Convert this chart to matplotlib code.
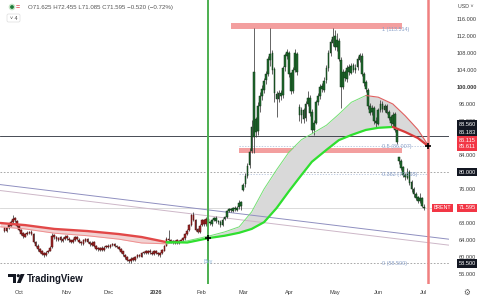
import numpy as np
import pandas as pd
import matplotlib
matplotlib.use("Agg")
import matplotlib.pyplot as plt
import matplotlib.transforms as mtransforms
from matplotlib.patches import Rectangle, Circle, Polygon, FancyBboxPatch

# ---------------- data ----------------
candle_first = "2025-09-22"
candle_last = "2026-07-01"

opens = [66.8, 66.1, 66.9, 67.4, 68.2, 69.1, 68.5, 67.3, 66.4, 65.6,
         64.8, 65.3, 65.6, 66.0, 65.4, 63.5, 62.7, 61.9, 61.3, 60.9,
         60.4, 61.1, 61.5, 62.3, 65.1, 64.7, 64.1, 64.6, 63.8, 64.2,
         64.9, 64.3, 63.9, 63.5, 64.0, 64.7, 64.1, 63.6, 63.1, 63.8,
         64.3, 63.5, 62.9, 63.5, 62.5, 62.1, 61.7, 62.2, 61.6, 62.3,
         62.7, 62.3, 62.9, 63.1, 62.6, 62.4, 61.8, 61.3, 60.5, 60.0,
         59.3, 59.0, 59.7, 59.2, 60.1, 60.5, 60.1, 61.0, 61.3, 60.9,
         61.5, 61.0, 60.7, 61.4, 60.9, 60.5, 61.0, 61.5, 62.7, 64.3,
         63.9, 63.7, 63.4, 63.9, 63.3, 63.8, 64.1, 64.4, 65.5, 66.3,
         67.6, 69.9, 68.7, 66.5, 65.9, 67.5, 68.7, 67.7, 69.0, 68.2,
         67.8, 68.8, 69.2, 68.4, 68.3, 67.5, 68.9, 69.5, 70.9, 71.3,
         70.9, 71.6, 71.1, 71.7, 72.9, 75.8, 77.2, 79.1, 81.6, 85.0,
         88.2, 92.5, 89.6, 95.6, 97.9, 99.4, 101.6, 103.1, 106.4, 108.0,
         104.2, 98.4, 97.1, 98.7, 98.0, 104.6, 107.4, 108.1, 103.2, 99.1,
         104.1, 107.8, 95.3, 93.4, 94.6, 92.6, 96.1, 97.4, 94.1, 89.9,
         91.6, 96.4, 97.9, 100.2, 99.4, 101.6, 104.4, 108.1, 110.4, 111.9,
         109.4, 110.8, 106.4, 100.1, 103.6, 101.9, 104.6, 103.4, 105.1, 103.9,
         104.6, 106.4, 107.4, 103.1, 101.1, 99.4, 95.6, 94.1, 95.1, 92.1,
         91.4, 94.6, 96.1, 94.7, 95.6, 94.1, 92.9, 91.4, 93.6, 89.9,
         83.5, 82.6, 81.1, 79.4, 78.7, 80.1, 77.6, 76.1, 74.9, 74.1,
         73.1, 73.9, 71.625]
highs = [67.1, 67.0, 67.8, 68.6, 69.9, 69.4, 68.7, 67.5, 66.6, 65.8,
         65.7, 66.0, 66.2, 66.3, 65.6, 63.8, 63.0, 62.1, 61.6, 61.1,
         61.3, 61.7, 62.5, 65.6, 65.4, 65.0, 64.8, 64.9, 64.6, 65.1,
         65.2, 64.6, 64.1, 64.4, 64.9, 64.9, 64.4, 63.8, 64.2, 64.5,
         64.5, 63.8, 63.7, 63.7, 62.8, 62.4, 62.4, 62.5, 62.5, 62.9,
         63.0, 63.1, 63.4, 63.3, 62.9, 62.6, 62.0, 61.5, 60.8, 60.2,
         59.6, 59.9, 60.0, 60.3, 60.7, 60.8, 61.2, 61.5, 61.6, 61.7,
         61.8, 61.3, 61.6, 61.7, 61.2, 61.2, 61.9, 62.9, 64.7, 66.4,
         64.3, 64.0, 64.1, 64.2, 64.0, 64.3, 64.8, 65.7, 66.5, 67.8,
         70.1, 70.6, 69.0, 66.9, 67.7, 68.9, 69.0, 69.3, 69.4, 68.5,
         69.0, 69.4, 69.6, 68.8, 68.6, 69.1, 69.7, 71.1, 71.6, 71.6,
         71.8, 71.9, 71.9, 73.4, 73.1, 77.5, 79.8, 82.0, 85.6, 92.2,
         113.9, 93.0, 96.5, 98.8, 100.5, 102.2, 103.8, 107.2, 113.9, 108.6,
         104.6, 99.0, 99.3, 99.2, 105.0, 108.0, 108.9, 108.5, 103.6, 104.8,
         108.9, 108.2, 96.0, 95.2, 95.0, 96.8, 99.0, 98.0, 94.8, 92.2,
         97.0, 98.5, 100.8, 101.0, 102.3, 105.2, 108.8, 111.4, 113.9, 113.4,
         112.7, 111.5, 107.0, 104.2, 104.0, 105.2, 105.4, 105.6, 105.6, 105.3,
         107.2, 108.1, 108.0, 103.6, 101.6, 99.8, 96.2, 95.8, 95.6, 93.0,
         95.0, 97.0, 96.6, 96.0, 96.0, 94.6, 93.4, 94.2, 94.0, 90.3,
         83.6, 83.0, 81.4, 79.8, 81.0, 80.4, 78.0, 76.5, 75.3, 74.4,
         75.0, 74.2, 72.455]
lows = [65.8, 65.9, 66.6, 67.2, 68.0, 68.3, 67.1, 66.0, 65.2, 64.5,
        64.6, 65.1, 65.4, 65.2, 63.3, 62.3, 61.5, 60.9, 60.4, 60.0,
        60.2, 60.9, 61.3, 62.0, 64.2, 63.8, 63.8, 63.6, 63.5, 64.0,
        64.1, 63.6, 63.2, 63.3, 63.8, 63.9, 63.2, 62.9, 62.8, 63.5,
        63.3, 62.7, 62.6, 62.3, 61.7, 61.5, 61.4, 61.4, 61.3, 62.0,
        62.1, 62.1, 62.6, 62.4, 62.0, 61.6, 60.9, 60.3, 59.5, 59.0,
        58.7, 58.6, 59.0, 59.0, 59.8, 59.9, 59.9, 60.7, 60.7, 60.6,
        60.8, 60.5, 60.4, 60.7, 60.2, 60.1, 60.7, 61.3, 62.5, 63.7,
        63.3, 63.1, 63.1, 63.1, 63.0, 63.5, 63.8, 64.1, 65.2, 66.0,
        67.3, 68.4, 66.0, 65.6, 65.6, 67.2, 67.4, 67.4, 68.0, 67.5,
        67.4, 68.5, 68.1, 67.8, 67.0, 67.2, 68.6, 69.2, 70.6, 70.7,
        70.6, 70.9, 70.8, 71.3, 71.0, 75.6, 76.5, 78.5, 81.0, 84.5,
        84.5, 88.2, 88.8, 94.2, 97.0, 98.5, 100.8, 102.5, 105.0, 103.0,
        96.4, 92.9, 96.5, 97.0, 97.5, 103.8, 106.5, 102.3, 98.3, 98.6,
        103.5, 102.8, 92.0, 91.5, 91.6, 92.0, 95.5, 93.2, 89.2, 88.7,
        91.2, 95.8, 97.2, 98.8, 98.8, 101.0, 103.8, 107.2, 109.6, 108.8,
        108.5, 106.0, 95.0, 99.5, 101.5, 101.2, 102.8, 103.0, 103.5, 103.4,
        104.0, 105.8, 102.5, 100.3, 98.8, 94.8, 93.4, 93.5, 91.2, 90.6,
        91.0, 94.0, 94.2, 94.2, 93.6, 92.3, 90.8, 90.5, 89.4, 86.5,
        81.8, 80.4, 78.8, 78.1, 78.4, 76.9, 75.2, 74.2, 73.4, 72.7,
        72.6, 71.8, 71.085]
closes = [66.2, 66.8, 67.5, 68.3, 69.0, 68.6, 67.4, 66.3, 65.5, 64.9,
          65.4, 65.7, 65.9, 65.5, 63.6, 62.6, 61.8, 61.2, 60.8, 60.5,
          61.0, 61.4, 62.2, 65.0, 64.6, 64.2, 64.5, 63.9, 64.3, 64.8,
          64.4, 63.9, 63.6, 64.1, 64.6, 64.2, 63.5, 63.2, 63.9, 64.2,
          63.6, 63.0, 63.4, 62.6, 62.0, 61.8, 62.1, 61.7, 62.2, 62.6,
          62.4, 62.8, 63.0, 62.7, 62.3, 61.9, 61.2, 60.6, 59.9, 59.4,
          59.1, 59.6, 59.3, 60.0, 60.4, 60.2, 60.9, 61.2, 61.0, 61.4,
          61.1, 60.8, 61.3, 61.0, 60.6, 60.9, 61.6, 62.6, 64.2, 64.0,
          63.6, 63.5, 63.8, 63.4, 63.7, 64.0, 64.5, 65.4, 66.2, 67.5,
          69.8, 68.8, 66.4, 66.0, 67.4, 68.6, 67.8, 68.9, 68.3, 67.9,
          68.7, 69.1, 68.5, 68.2, 67.6, 68.8, 69.4, 70.8, 71.2, 71.0,
          71.5, 71.2, 71.6, 72.8, 71.9, 77.0, 79.0, 81.5, 84.8, 90.5,
          103.5, 89.5, 95.5, 97.8, 99.5, 101.5, 103.0, 106.5, 107.8, 104.0,
          98.5, 97.2, 98.6, 97.8, 104.5, 107.5, 108.3, 103.0, 99.0, 104.0,
          108.0, 103.5, 93.5, 94.5, 92.5, 96.0, 97.5, 94.0, 90.0, 91.5,
          96.5, 97.8, 100.0, 99.5, 101.5, 104.5, 108.0, 110.5, 111.8, 109.5,
          111.0, 106.5, 100.0, 103.5, 102.0, 104.5, 103.5, 105.0, 104.0, 104.5,
          106.5, 107.5, 103.0, 101.0, 99.5, 95.5, 94.0, 95.0, 92.0, 91.5,
          94.5, 96.0, 94.8, 95.5, 94.0, 92.8, 91.5, 93.5, 90.0, 87.0,
          82.5, 81.0, 79.3, 78.8, 80.0, 77.5, 76.0, 74.8, 74.0, 73.2,
          73.8, 72.1, 71.595]

ribbon_dates = ["2025-09-18", "2025-10-06", "2025-10-24", "2025-11-17", "2025-12-08",
                "2025-12-23", "2026-01-08", "2026-01-22", "2026-02-06", "2026-02-17",
                "2026-02-26", "2026-03-06", "2026-03-16", "2026-03-24", "2026-04-01",
                "2026-04-09", "2026-04-16", "2026-04-27", "2026-05-05", "2026-05-13",
                "2026-05-22", "2026-06-01", "2026-06-10", "2026-06-18", "2026-06-26",
                "2026-07-03"]
ma_slow = [68.0, 67.5, 66.6, 66.1, 65.4, 64.7, 63.5, 63.4, 64.5, 65.0,
           65.7, 66.6, 68.2, 71.5, 75.5, 79.3, 82.4, 85.2, 87.5, 88.7,
           89.9, 90.4, 90.6, 89.4, 88.0, 86.1]
ma_fast = [67.1, 66.6, 65.6, 65.0, 64.2, 63.3, 63.1, 63.8, 65.0, 65.9,
           67.1, 70.6, 76.0, 80.5, 84.7, 87.6, 89.0, 91.0, 93.6, 96.4,
           98.0, 97.6, 96.0, 93.2, 90.0, 86.3]
bull_turn = "2026-01-08"
fast_bear_turn = "2026-05-22"
slow_bear_turn = "2026-06-10"

buy_date = "2026-02-05"
buy_price = 64.5
signal_date = "2026-07-03"
signal_price = 86.2

hline_price = 88.56
last_price = 71.595
dashed_levels = [80.0, 58.5]
fib_names = ["1", "0.5", "0.382", "0"]
fib_prices = [113.514, 86.007, 79.515, 58.5]
zone_prices = [(113.65, 115.05), (84.55, 85.6)]
zone_dates = [("2026-02-20", "2026-06-16"), ("2026-02-26", "2026-06-16")]

trend_a = [("2025-10-01", 76.5), ("2026-07-01", 64.9)]
trend_b = [("2025-10-01", 75.1), ("2026-07-01", 63.5)]

price_ticks = [56, 60, 64, 68, 76, 84, 92, 96, 100, 104, 108, 112, 116]
month_starts = ["2025-10-01", "2025-11-03", "2025-12-01", "2026-01-01", "2026-02-02",
                "2026-03-02", "2026-04-01", "2026-05-01", "2026-06-01", "2026-07-01"]
month_labels = ["Oct", "Nov", "Dec", "2026", "Feb", "Mar", "Apr", "May", "Jun", "Jul"]

box_values = [88.56, 86.183, 86.115, 85.611, 80.0, 71.595, 58.5]
box_colors = ["#131722", "#131722", "#f23645", "#f23645", "#131722", "#f23645", "#131722"]
box_shift_px = [11.6, 13.7, 6.0, 1.2, 0.0, 0.0, 0.0]

ohlc_text = "O71.625 H72.455 L71.085 C71.595 \u22120.520 (\u22120.72%)"

# ---------------- layout ----------------
W, H = 483, 300
plt.rcParams['font.family'] = ['Liberation Sans', 'DejaVu Sans']
fig = plt.figure(figsize=(W / 100, H / 100), dpi=100)
fig.patch.set_facecolor('white')
PLOT_R, PLOT_B = 449, 284
ax = fig.add_axes([0, (H - PLOT_B) / H, PLOT_R / W, PLOT_B / H])
ax.set_facecolor('white')
for s in ax.spines.values():
    s.set_visible(False)

axis_dates = pd.bdate_range("2025-09-15", "2026-07-20")
pos = {d: i for i, d in enumerate(axis_dates)}
P = lambda d: pos[pd.Timestamp(d)]

# x scale: Oct 1 at px 19, Jul 1 at px 424
k = (P("2026-07-01") - P("2025-10-01")) / (424 - 19)
ax.set_xlim(P("2025-10-01") - 19 * k, P("2025-10-01") + (PLOT_R - 19) * k)
# y scale: 116 at px 19, 4.25 px per unit
ax.set_ylim(116 - (PLOT_B - 19) / 4.25, 116 + 19 / 4.25)

cdates = pd.bdate_range(candle_first, candle_last)
cx = np.array([pos[d] for d in cdates], dtype=float)
o = np.array(opens); h = np.array(highs); l = np.array(lows); c = np.array(closes)

# zones
for (p0, p1), (d0, d1) in zip(zone_prices, zone_dates):
    ax.add_patch(Rectangle((P(d0), p0), P(d1) + 0.5 - P(d0), p1 - p0,
                           facecolor='#f28e8e', edgecolor='none', alpha=0.85, zorder=1))

# horizontal lines
ax.axhline(hline_price, color='#2a2e39', lw=0.6, zorder=2)
ax.axhline(last_price, color='#d4d4d4', lw=0.6, zorder=1)
for lv in dashed_levels:
    ax.axhline(lv, color='#9a9a9a', lw=0.6, ls=(0, (2, 2)), zorder=1)

# fib labels & light lines
for name, fp in zip(fib_names, fib_prices):
    if name in ("0.5", "0.382"):
        ax.plot([P("2026-02-26"), P("2026-07-03")], [fp, fp], color='#a9bad6',
                lw=0.5, ls=(0, (2, 2)), zorder=1)
    ax.text(P("2026-06-03"), fp, f"{name} ({fp:.3f})", fontsize=3.9, color='#8aa0c8',
            va='center', ha='left', zorder=6)

# trend lines
ax.axline((P(trend_a[0][0]), trend_a[0][1]), (P(trend_a[1][0]), trend_a[1][1]),
          color='#8f8fc0', lw=0.7, zorder=2)
ax.axline((P(trend_b[0][0]), trend_b[0][1]), (P(trend_b[1][0]), trend_b[1][1]),
          color='#cdb7c8', lw=0.7, zorder=2)

# ribbon
rx = np.array([P(d) for d in ribbon_dates], dtype=float)
fast = np.array(ma_fast); slow = np.array(ma_slow)
bt = P(bull_turn)
early = rx <= bt
late = rx >= bt
ax.fill_between(rx[early], fast[early], slow[early], color='#f1d2d2', lw=0, zorder=1.5)
ax.fill_between(rx[late], fast[late], slow[late], color='#d9d9d9', lw=0, zorder=1.5)

def seg(vals, mask, color, lw):
    ax.plot(rx[mask], vals[mask], color=color, lw=lw, zorder=4, solid_capstyle='round')

ft, st = P(fast_bear_turn), P(slow_bear_turn)
seg(fast, rx <= bt, '#ef8f8f', 0.7)
seg(slow, rx <= bt, '#e24848', 1.7)
seg(fast, (rx >= bt) & (rx <= ft), '#74de74', 0.7)
seg(fast, rx >= ft, '#e06060', 0.8)
seg(slow, (rx >= bt) & (rx <= st), '#2fe02f', 1.6)
seg(slow, rx >= st, '#d83a3a', 1.6)

# candles
buy_x = P(buy_date)
pre = cx < buy_x
face = np.where(pre, '#9a2626', '#1f6a2d')
edge = np.where(pre, '#5a1010', '#0f3516')
ax.vlines(cx, l, h, color='#3a3a3a', lw=0.55, zorder=3)
body_lo = np.minimum(o, c)
body_h = np.maximum(np.abs(c - o), 0.15)
ax.bar(cx, body_h, bottom=body_lo, width=0.85, color=face, edgecolor=edge, lw=0.35, zorder=3.5)

# vertical signal lines
ax.axvline(buy_x, color='#4caf50', lw=1.4, zorder=5)
ax.axvline(P(signal_date), color='#f08080', lw=1.8, zorder=5)
ax.plot([buy_x, P(signal_date)], [buy_price, signal_price], ls='none', marker='+',
        color='black', ms=4, mew=1.2, zorder=6)
ax.text(buy_x, 58.9, "Buy", fontsize=3.9, color='#8ab4d8', ha='center', va='center', zorder=6)

# axes ticks
ax.xaxis.set_ticks([P(d) for d in month_starts])
ax.xaxis.set_ticklabels(month_labels)
ax.tick_params(axis='x', length=0, pad=4.2, labelsize=4.1, labelcolor='#3a3a3a')
for lab in ax.get_xticklabels():
    if lab.get_text() == "2026":
        lab.set_fontweight('bold')

ax.yaxis.tick_right()
ax.yaxis.set_ticks(price_ticks)
ax.yaxis.set_ticklabels([f"{v:.3f}" for v in price_ticks])
ax.tick_params(axis='y', length=0, pad=13.0, labelsize=4.1, labelcolor='#3a3a3a')
plt.setp(ax.get_yticklabels(), ha='center')
for lab in ax.get_yticklabels():
    if lab.get_text() == "100.000":
        lab.set_fontweight('bold')

# boxed price labels on the axis
trans = mtransforms.blended_transform_factory(ax.transAxes, ax.transData)
for v, fc, sh in zip(box_values, box_colors, box_shift_px):
    ax.annotate(f"{v:.3f}", xy=(1, v), xycoords=trans, xytext=(18 * 0.72, sh * 0.72),
                textcoords='offset points', ha='center', va='center', fontsize=4.1,
                color='white', annotation_clip=False, zorder=8,
                bbox=dict(boxstyle='square,pad=0.3', fc=fc, ec='none'))
ax.annotate("BRENT", xy=(1, last_price), xycoords=trans, xytext=(-6.5 * 0.72, 0),
            textcoords='offset points', ha='center', va='center', fontsize=3.8,
            color='white', annotation_clip=False, zorder=8,
            bbox=dict(boxstyle='square,pad=0.3', fc='#f23645', ec='none'))

# ---------------- figure decorations ----------------
pxT = mtransforms.Affine2D().scale(1 / W, -1 / H).translate(0, 1) + fig.transFigure

fig.add_artist(Circle((12, 7), 3.3, transform=pxT, facecolor='#c8e6c9', edgecolor='none'))
fig.add_artist(Circle((12, 7), 1.9, transform=pxT, facecolor='#1f7a3a', edgecolor='none'))
fig.text(17.5, 7, "=", transform=pxT, fontsize=5, color='#e0505a', va='center', ha='center',
         fontweight='bold')
fig.text(28, 7.2, ohlc_text, transform=pxT, fontsize=4.4, color='#555555', va='center', ha='left')
fig.add_artist(FancyBboxPatch((7, 14), 13, 8, boxstyle='round,pad=0,rounding_size=1.5',
                              transform=pxT, facecolor='white', edgecolor='#dddddd', lw=0.5))
fig.text(13.5, 18.2, "\u02c5 4", transform=pxT, fontsize=3.8, color='#444444',
         va='center', ha='center')
fig.text(466, 7, "USD \u02c5", transform=pxT, fontsize=3.8, color='#444444', va='center',
         ha='center')
fig.text(467, 292.5, "\u2699", transform=pxT, fontsize=5.5, color='#555555', va='center',
         ha='center', family='DejaVu Sans')

# TradingView logo
fig.add_artist(Polygon([(8, 274), (16, 274), (16, 283), (12.6, 283), (12.6, 277.2), (8, 277.2)],
                       closed=True, transform=pxT, facecolor='#131722', edgecolor='none'))
fig.add_artist(Circle((18.3, 275.7), 1.6, transform=pxT, facecolor='#131722', edgecolor='none'))
fig.add_artist(Polygon([(20.6, 274), (24.6, 274), (20.6, 283), (16.9, 283)], closed=True,
                       transform=pxT, facecolor='#131722', edgecolor='none'))
fig.text(26.5, 278.8, "TradingView", transform=pxT, fontsize=6.9, fontweight='bold',
         color='#131722', va='center', ha='left')

fig.savefig("out.png", dpi=100)
